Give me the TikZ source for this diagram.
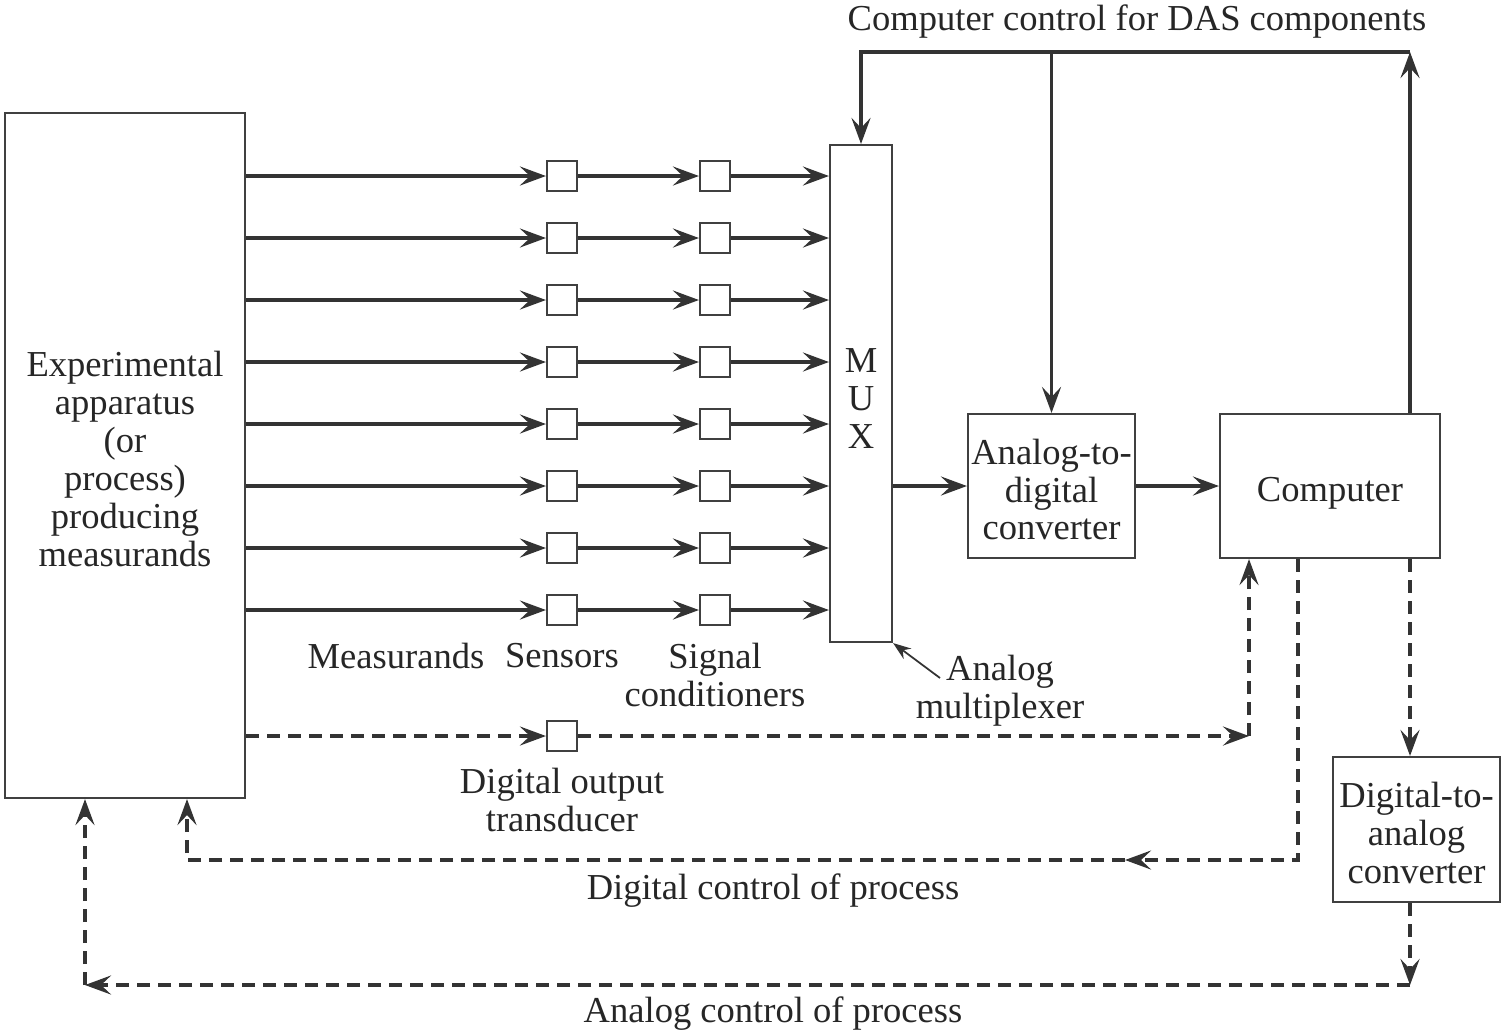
\documentclass[tikz,border=0pt]{standalone}
\usepackage{fontspec}
\setmainfont{Liberation Serif}
\usetikzlibrary{arrows.meta}

\tikzset{
  block/.style={draw=black!75, line width=0.6pt, fill=white, inner sep=0pt, align=center},
  cell/.style={draw=black!75, line width=0.6pt, fill=white, minimum size=3mm, inner sep=0pt},
  txt/.style={inner sep=0pt, align=center, text=black!85, yshift=-0.35mm},
  flow/.style={draw=black!80, line width=1pt, -{Stealth[length=2.6mm, width=1.9mm, inset=1mm]}},
  ctrl/.style={flow, dash pattern=on 1.3mm off 0.8mm},
  pointer/.style={draw=black!80, line width=0.5pt, -{Stealth[length=1.8mm, width=1.3mm, inset=0.6mm]}},
}

\begin{document}
\begin{tikzpicture}[x=0.1mm, y=-0.1mm, font=\fontsize{10.4}{10.8}\selectfont]
  \useasboundingbox (0,0) rectangle (1501,1029);

  % main blocks
  \node[block, minimum width=24mm, minimum height=68.5mm] (exp) at (125,455.5) {};
  \node[txt] at (exp) {Experimental\\apparatus\\(or\\process)\\producing\\measurands};
  \node[block, minimum width=6.2mm, minimum height=49.7mm] (mux) at (861,393.5) {};
  \node[txt] at (861,395) {M\\U\\X};
  \node[block, minimum width=16.7mm, minimum height=14.4mm] (adc) at (1051.5,486) {};
  \node[txt] at (adc) {Analog-to-\\digital\\converter};
  \node[block, minimum width=22mm, minimum height=14.4mm] (comp) at (1330,486) {};
  \node[txt] at (1330,490) {Computer};
  \node[block, minimum width=16.7mm, minimum height=14.5mm] (dac) at (1416.5,829.5) {};
  \node[txt] at (dac) {Digital-to-\\analog\\converter};

  % measurand channels
  \foreach \i [evaluate=\i as \y using 176+62*(\i-1)] in {1,...,8} {
    \node[cell] (s\i) at (562,\y) {};
    \node[cell] (c\i) at (715,\y) {};
    \draw[flow] (exp.east |- s\i) -- (s\i);
    \draw[flow] (s\i) -- (c\i);
    \draw[flow] (c\i) -- (mux.west |- c\i);
  }
  \node[txt] at (396,652) {Measurands};
  \node[txt] at (562,652) {Sensors};
  \node[txt] at (715,671) {Signal\\conditioners};

  % multiplexer label
  \node[txt] (muxlabel) at (1000,687) {Analog\\multiplexer};
  \coordinate (muxtail) at (940,678);
  \draw[pointer] (muxtail) -- (mux.south east);

  % conversion chain
  \draw[flow] (mux.east |- adc) -- (adc.west);
  \draw[flow] (adc) -- (comp);

  % computer control for DAS components
  \coordinate (cr) at (1410,52);
  \draw[flow] (comp.north -| cr) -- (cr);
  \draw[flow] (cr) -| (mux.north);
  \draw[flow] (adc.north |- cr) -- (adc.north);
  \node[txt] at (1137,18) {Computer control for DAS components};

  % digital output transducer
  \node[cell] (dot) at (562,736) {};
  \coordinate (dk) at (1249,736);
  \draw[ctrl] (exp.east |- dot) -- (dot);
  \draw[ctrl] (dot) -- (dk);
  \draw[ctrl] (dk) -- (comp.south -| dk);
  \node[txt] at (562,796) {Digital output\\transducer};

  % digital control of process
  \coordinate (dc1) at (1298,860);
  \coordinate (dcm) at (1125,860);
  \coordinate (dc2) at (187,860);
  \draw[ctrl] (comp.south -| dc1) |- (dcm);
  \draw[ctrl] (dcm) -- (dc2) -- (exp.south -| dc2);
  \node[txt] at (773,887) {Digital control of process};

  % analog control of process
  \coordinate (ac1) at (1410,985);
  \coordinate (ac2) at (85,985);
  \draw[ctrl] (comp.south -| ac1) -- (dac.north -| ac1);
  \draw[ctrl] (dac.south -| ac1) -- (ac1);
  \draw[ctrl] (ac1) -- (ac2);
  \draw[ctrl] (ac2) -- (exp.south -| ac2);
  \node[txt] at (773,1010) {Analog control of process};
\end{tikzpicture}
\end{document}
